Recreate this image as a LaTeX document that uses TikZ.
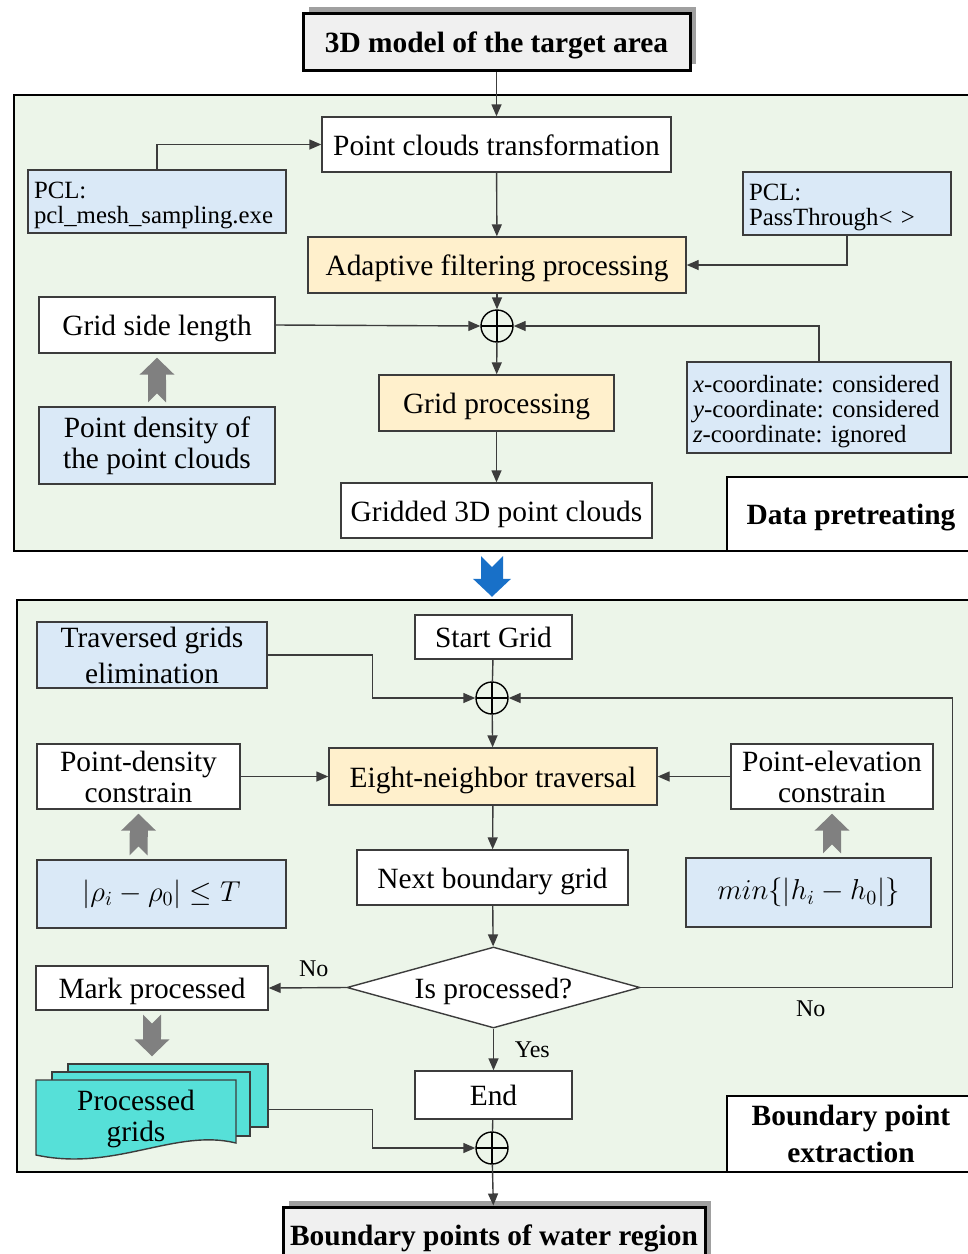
\documentclass[tikz,border=0pt]{standalone}
\usepackage{fontspec}
\setmainfont{Liberation Serif}
\usepackage{tikz}
\usetikzlibrary{shapes.geometric, arrows.meta, shadows}
\definecolor{panelgreen}{RGB}{236,245,233}
\definecolor{boxblue}{RGB}{218,233,247}
\definecolor{boxyellow}{RGB}{255,240,204}
\definecolor{titlegray}{RGB}{240,240,240}
\definecolor{shadowgray}{RGB}{160,160,160}
\definecolor{fatgray}{RGB}{128,128,128}
\definecolor{flowblue}{RGB}{24,112,200}
\definecolor{sheetcyan}{RGB}{86,224,216}
\definecolor{edgegray}{RGB}{60,60,60}
\frenchspacing
\newcommand{\mainsize}{\fontsize{14.7}{15.5}\selectfont}
\newcommand{\pclsize}{\fontsize{12.4}{12.5}\selectfont}
\newcommand{\labelsize}{\fontsize{12}{13}\selectfont}
\tikzstyle{panel} = [rectangle, draw=black, line width=1.2pt, fill=panelgreen, inner sep=0pt]
\tikzstyle{textline} = [text height=14pt, text depth=3.2pt]
\tikzstyle{blockwhite} = [rectangle, draw=edgegray, line width=0.7pt, fill=white, text centered, align=center, inner sep=2pt, font=\mainsize]
\tikzstyle{blockyellow} = [blockwhite, fill=boxyellow]
\tikzstyle{blockblue} = [blockwhite, fill=boxblue]
\tikzstyle{blockpcl} = [rectangle, draw=edgegray, line width=0.7pt, fill=boxblue, align=left, font=\pclsize, inner xsep=3pt, inner ysep=1pt, text height=12.5pt]
\tikzstyle{blocktitle} = [rectangle, draw=black, line width=1.5pt, fill=titlegray, font=\mainsize\bfseries, drop shadow={shadow xshift=3pt, shadow yshift=3pt, fill=shadowgray, opacity=1}]
\tikzstyle{blocklabel} = [rectangle, draw=black, line width=1.2pt, fill=white, font=\mainsize\bfseries, align=center]
\tikzstyle{decision} = [diamond, draw=edgegray, line width=0.7pt, fill=white, minimum width=146.5pt, minimum height=40.5pt, inner sep=0pt, aspect=3.6, font=\mainsize]
\tikzstyle{sumnode} = [circle, draw=black, line width=0.7pt, minimum size=16pt, inner sep=0pt, path picture={\draw[line width=0.7pt] (path picture bounding box.north) -- (path picture bounding box.south) (path picture bounding box.west) -- (path picture bounding box.east);}]
\tikzstyle{sheet} = [rectangle, draw=edgegray, line width=0.7pt, fill=sheetcyan, inner sep=0pt]
\tikzstyle{arrow} = [line width=0.7pt, draw=edgegray, -{Triangle[length=6pt, width=5pt]}]
\tikzstyle{plainline} = [line width=0.7pt, draw=edgegray]
\tikzstyle{fatarrow} = [line width=9pt, draw=fatgray, {Triangle Cap[reversed]}-{Triangle[length=8.5pt, width=17pt]}]
\tikzstyle{bluearrow} = [line width=11pt, draw=flowblue, {Triangle Cap[reversed]}-{Triangle[length=9pt, width=18.5pt]}]

\begin{document}
\begin{tikzpicture}[x=0.5pt, y=-0.5pt]
\useasboundingbox (0,0) rectangle (968,1254);

\node (pretreat) [panel, minimum width=485.5pt, minimum height=228pt] at (499.5,323) {};
\node (extract) [panel, minimum width=484pt, minimum height=286pt] at (501,886) {};

\node (model) [blocktitle, textline, minimum width=193.5pt, minimum height=28.5pt] at (496.5,41.5) {3D model of the target area};
\node (trans) [blockwhite, textline, minimum width=174.5pt, minimum height=27.5pt] at (496.5,144.5) {Point clouds transformation};
\node (mesh) [blockpcl, minimum width=129pt, minimum height=31.5pt, text width=123pt] at (157,201.5) {PCL:\\pcl\_mesh\_sampling.exe};
\node (pass) [blockpcl, minimum width=104pt, minimum height=31.5pt, text width=98pt] at (847,203.5) {PCL:\\PassThrough< >};
\node (adapt) [blockyellow, textline, minimum width=189pt, minimum height=28pt] at (497,265) {Adaptive filtering processing};
\node (sum1) [sumnode] at (497,326) {};
\node (side) [blockwhite, textline, minimum width=118pt, minimum height=28pt] at (157,325) {Grid side length};
\node (xyz) [blockpcl, minimum width=132pt, minimum height=45.5pt, text width=126pt] at (819,407.5) {\textit{x}-coordinate: considered\\\textit{y}-coordinate: considered\\\textit{z}-coordinate: ignored};
\node (dens) [blockblue, minimum width=118pt, minimum height=38.5pt] at (157,445.5) {Point density of\\the point clouds};
\node (gridp) [blockyellow, textline, minimum width=117.5pt, minimum height=28pt] at (496.5,403) {Grid processing};
\node (gridded) [blockwhite, textline, minimum width=155.5pt, minimum height=27.5pt] at (496.5,510.5) {Gridded 3D point clouds};
\node (prelabel) [blocklabel, textline, minimum width=124pt, minimum height=37pt] at (851,514) {Data pretreating};

\node (trav) [blockblue, minimum width=115pt, minimum height=33pt] at (152,655) {Traversed grids\\[2.5pt]elimination};
\node (start) [blockwhite, textline, minimum width=78.5pt, minimum height=22pt] at (493.5,637) {Start Grid};
\node (sum2) [sumnode] at (492,698) {};
\node (eight) [blockyellow, textline, minimum width=164pt, minimum height=28.5pt] at (493,776.5) {Eight-neighbor traversal};
\node (pdc) [blockwhite, minimum width=101.5pt, minimum height=32.5pt] at (138.5,776.5) {Point-density\\constrain};
\node (pec) [blockwhite, minimum width=101pt, minimum height=32.5pt] at (832,776.5) {Point-elevation\\constrain};
\node (rho) [blockblue, minimum width=124.5pt, minimum height=34pt] at (161.5,894) {$|\rho_i-\rho_0|\le T$};
\node (minh) [blockblue, minimum width=122.5pt, minimum height=34.5pt] at (808.5,892.5) {$min\{|h_i-h_0|\}$};
\node (next) [blockwhite, textline, minimum width=135.5pt, minimum height=27.5pt] at (492.5,877.5) {Next boundary grid};
\node (dia) [decision, textline] at (493.5,987.5) {Is processed?};
\node (mark) [blockwhite, textline, minimum width=116pt, minimum height=22pt] at (152,988) {Mark processed};
\node (end) [blockwhite, textline, minimum width=78.5pt, minimum height=24pt] at (493.5,1095) {End};
\node (sum3) [sumnode] at (492,1148) {};
\node (docsback) [sheet, minimum width=100pt, minimum height=31.5pt] at (168,1095.5) {};
\node (docsmid) [sheet, minimum width=99pt, minimum height=32pt] at (151,1104) {};
\draw [line width=0.7pt, draw=edgegray, fill=sheetcyan] (36,1080) -- (236,1080) -- (236,1143) .. controls (175,1128) and (115,1172) .. (36,1155) -- cycle;
\node (docs) [font=\mainsize, align=center] at (136,1119) {Processed\\grids};
\node (extlabel) [blocklabel, minimum width=124pt, minimum height=38pt] at (851,1134) {Boundary point\\[3pt]extraction};
\node (result) [blocktitle, textline, minimum width=211pt, minimum height=27.5pt] at (494,1234.5) {Boundary points of water region};

\draw [arrow] (model) -- (trans);
\draw [arrow] (mesh.north) |- (trans.west);
\draw [arrow] (trans) -- (adapt);
\draw [arrow] (pass.south) |- (adapt.east);
\draw [arrow] (adapt) -- (sum1);
\draw [arrow] (side.east) -- (sum1.west);
\draw [arrow] (xyz.north) |- (sum1.east);
\draw [fatarrow] ([yshift=2pt]dens.north) -- ([yshift=-2pt]side.south);
\draw [arrow] (sum1) -- (gridp);
\draw [arrow] (gridp) -- (gridded);
\draw [bluearrow] ([yshift=-2pt]pretreat.south -| sum2) -- ([yshift=1pt]extract.north -| sum2);

\draw [arrow] (trav.east) -- ++(105,0) |- (sum2.west);
\draw [plainline] (start) -- (sum2);
\draw [arrow] (sum2) -- (eight);
\draw [arrow] (pdc.east) -- (eight.west);
\draw [arrow] (pec.west) -- (eight.east);
\draw [fatarrow] ([yshift=2pt]pdc.south |- rho.north) -- ([yshift=-2pt]pdc.south);
\draw [fatarrow] ([yshift=2pt]pec.south |- minh.north) -- ([yshift=-2pt]pec.south);
\draw [arrow] (eight) -- (next);
\draw [arrow] (next) -- (dia);
\draw [arrow] (dia.west) -- node[above=2pt, pos=0.42, font=\labelsize] {No} (mark.east);
\draw [arrow] (dia.east) -- node[below=3pt, pos=0.545, font=\labelsize] {No} ++(312,0) |- (sum2.east);
\draw [arrow] (dia) -- node[right=7pt, font=\labelsize] {Yes} (end);
\draw [fatarrow] ([yshift=-2pt]mark.south) -- ([yshift=3.5pt]mark.south |- docsback.north);
\draw [arrow] ([yshift=-7pt]docsback.east) -- ++(104,0) |- (sum3.west);
\draw [plainline] (end) -- (sum3);
\draw [arrow] (sum3) -- (result);

\end{tikzpicture}
\end{document}
